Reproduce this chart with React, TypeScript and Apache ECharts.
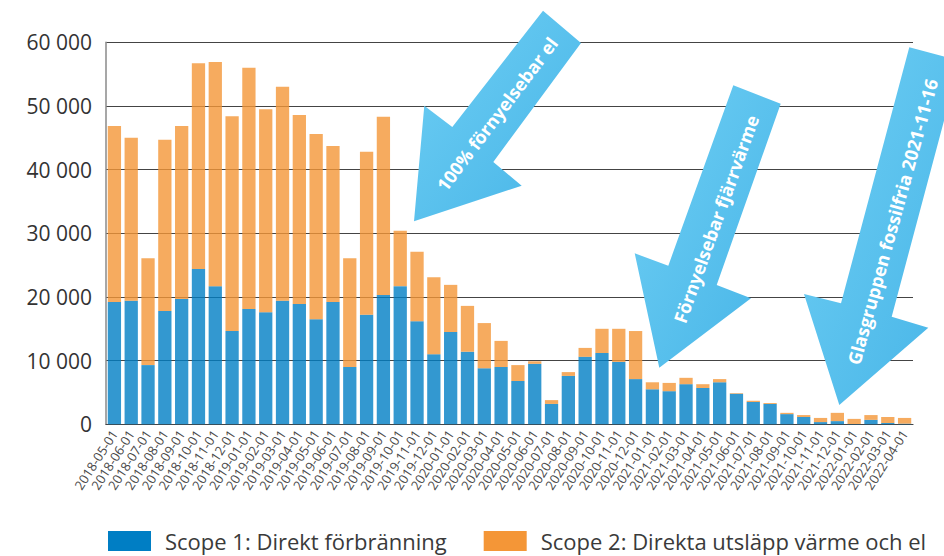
import React, { useEffect, useRef } from "react";
import * as echarts from "echarts";

const categories = [
  "2018-05-01", "2018-06-01", "2018-07-01", "2018-08-01", "2018-09-01", "2018-10-01", "2018-11-01", "2018-12-01",
  "2019-01-01", "2019-02-01", "2019-03-01", "2019-04-01", "2019-05-01", "2019-06-01", "2019-07-01", "2019-08-01",
  "2019-09-01", "2019-10-01", "2019-11-01", "2019-12-01", "2020-01-01", "2020-02-01", "2020-03-01", "2020-04-01",
  "2020-05-01", "2020-06-01", "2020-07-01", "2020-08-01", "2020-09-01", "2020-10-01", "2020-11-01", "2020-12-01",
  "2021-01-01", "2021-02-01", "2021-03-01", "2021-04-01", "2021-05-01", "2021-06-01", "2021-07-01", "2021-08-01",
  "2021-09-01", "2021-10-01", "2021-11-01", "2021-12-01", "2022-01-01", "2022-02-01", "2022-03-01", "2022-04-01",
];

const scope1 = [
  19200, 19400, 9300, 17800, 19700, 24400, 21700, 14650,
  18100, 17600, 19400, 18900, 16500, 19200, 9000, 17200,
  20300, 21700, 16200, 11000, 14500, 11400, 8800, 9000,
  6800, 9500, 3200, 7600, 10600, 11200, 9800, 7100,
  5500, 5200, 6300, 5700, 6600, 4800, 3500, 3200,
  1600, 1150, 350, 500, 50, 700, 200, 100,
];

const scope2 = [
  27650, 25600, 16800, 26900, 27150, 32300, 35200, 33750,
  37900, 31900, 33600, 29700, 29100, 24500, 17100, 25600,
  28000, 8700, 10900, 12100, 7400, 7200, 7100, 4100,
  2500, 400, 600, 600, 1400, 3800, 5200, 7550,
  1100, 1300, 1000, 600, 500, 100, 200, 150,
  200, 300, 650, 1300, 800, 750, 950, 900,
];

const yTicks = { min: 0, max: 60000, interval: 10000 };

const seriesNames = ["Scope 1: Direkt förbränning", "Scope 2: Direkta utsläpp värme och el"];
const seriesColors = ["#007ec4", "#f49637"];

const arrows = [
  {
    label: "100% förnyelsebar el",
    points: [[543, 10.7], [581, 43], [493.3, 162], [521.7, 185.7], [414, 221.3], [424.3, 105.7], [452.3, 127]],
    textX: 497, textY: 114, angle: 52.9,
  },
  {
    label: "Förnyelsebar fjärrvärme",
    points: [[733.3, 85.3], [780.7, 103.7], [716.7, 285], [751, 298.3], [659.3, 367.7], [634.7, 253.3], [668.3, 265.7]],
    textX: 716, textY: 219, angle: 70.3,
  },
  {
    label: "Glasgruppen fossilfria 2021-11-16",
    points: [[909.3, 47.3], [960, 60.7], [891.7, 316.7], [928.3, 327.7], [839.3, 405], [804, 294], [841, 303.3]],
    textX: 892.5, textY: 221.7, angle: 74.6,
  },
];

const FONT = "'Open Sans', sans-serif";

export default function App() {
  const ref = useRef<HTMLDivElement>(null);
  useEffect(() => {
    if (!ref.current) return;
    const chart = echarts.init(ref.current, undefined, { renderer: "svg" });
    const graphics: any[] = [];
    arrows.forEach((a) => {
      graphics.push({
        type: "polygon",
        shape: { points: a.points },
        style: {
          fill: new echarts.graphic.LinearGradient(0, 0, 1, 1, [
            { offset: 0, color: "#6fcff4" },
            { offset: 1, color: "#46b4e7" },
          ]),
        },
        z: 100,
      });
      graphics.push({
        type: "text",
        x: a.textX,
        y: a.textY,
        rotation: (a.angle * Math.PI) / 180,
        style: {
          text: a.label,
          fill: "#ffffff",
          font: `bold 18px ${FONT}`,
          align: "center",
          verticalAlign: "middle",
        },
        z: 101,
      });
    });
    chart.setOption({
      animation: false,
      grid: { left: 106, right: 31, top: 42.3, bottom: 131.7, containLabel: false },
      legend: {
        left: 108,
        top: 530,
        padding: 0,
        itemWidth: 43,
        itemHeight: 20,
        itemGap: 37,
        icon: "rect",
        textStyle: { fontFamily: FONT, fontSize: 22, lineHeight: 20, color: "#3a3a3a", padding: [0, 0, 0, 9] },
        data: seriesNames.map((n, i) => ({ name: n, itemStyle: { color: seriesColors[i], opacity: 1 } })),
      },
      xAxis: {
        type: "category",
        data: categories,
        axisTick: { show: false },
        axisLine: { show: true, lineStyle: { color: "#444", width: 1.2 } },
        axisLabel: {
          interval: 0,
          rotate: 57,
          fontFamily: FONT,
          fontSize: 13,
          color: "#4a4a4a",
          margin: 7,
        },
      },
      yAxis: {
        type: "value",
        min: yTicks.min,
        max: yTicks.max,
        interval: yTicks.interval,
        axisLine: { show: true, lineStyle: { color: "#8a8a8a", width: 1.5 } },
        axisTick: { show: false },
        splitLine: { lineStyle: { color: "#444", width: 1.2 } },
        axisLabel: {
          fontFamily: FONT,
          fontSize: 21,
          color: "#333",
          margin: 14,
          padding: [14, 0, 0, 0],
          formatter: (v: number) => String(v).replace(/\B(?=(\d{3})+(?!\d))/g, " "),
        },
      },
      series: [
        {
          name: seriesNames[0],
          type: "bar",
          stack: "total",
          data: scope1,
          barCategoryGap: "21%",
          itemStyle: { color: seriesColors[0], opacity: 0.8 },
        },
        {
          name: seriesNames[1],
          type: "bar",
          stack: "total",
          data: scope2,
          barCategoryGap: "21%",
          itemStyle: { color: seriesColors[1], opacity: 0.8 },
        },
      ],
      graphic: graphics,
    });
    return () => chart.dispose();
  }, []);
  return <div ref={ref} style={{ position: "fixed", left: 0, top: 0, width: 944, height: 556, background: "#fff" }} />;
}
